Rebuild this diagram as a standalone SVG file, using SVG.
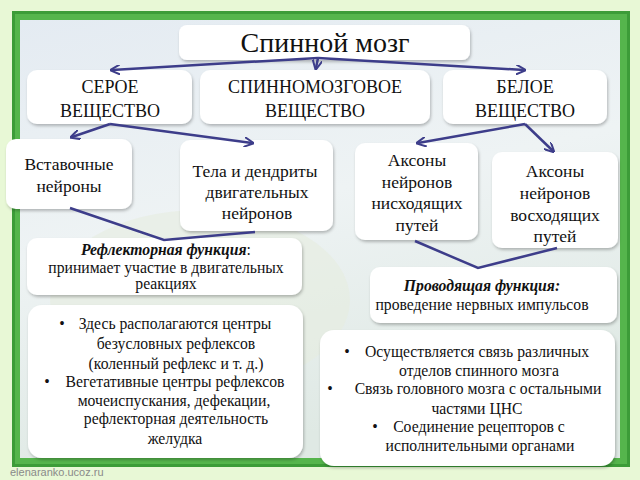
<svg xmlns="http://www.w3.org/2000/svg" width="640" height="480" viewBox="0 0 640 480">
<defs>
<linearGradient id="bg" x1="0" y1="0" x2="0.3" y2="1">
<stop offset="0" stop-color="#e4ebf2"/>
<stop offset="0.5" stop-color="#eef3f4"/>
<stop offset="1" stop-color="#dfe9e4"/>
</linearGradient>
<filter id="sh" x="-10%" y="-10%" width="120%" height="130%">
<feDropShadow dx="1" dy="2" stdDeviation="1.5" flood-color="#000" flood-opacity="0.25"/>
</filter>
<marker id="ah" viewBox="0 0 10 10" refX="8" refY="5" markerWidth="4" markerHeight="4" orient="auto" markerUnits="strokeWidth">
<path d="M0,0 L10,5 L0,10" fill="none" stroke="#3d3d8a" stroke-width="2"/>
</marker>
</defs>
<style>
.box{fill:#ffffff;filter:url(#sh)}
.t{font-family:'Liberation Serif','Times New Roman',serif;fill:#111;text-anchor:middle}
.n{font-size:17.5px}
.l{font-size:15.7px}
.conn{stroke:#3d3d8a;stroke-width:2.5;fill:none}
</style>
<rect width="640" height="480" fill="#e8f8d6"/>
<rect x="12" y="11" width="618" height="456" fill="#3c9c38"/>
<rect x="15" y="14" width="612" height="450" fill="#55b54c"/>
<rect x="20" y="20" width="600" height="438" fill="url(#bg)"/>
<ellipse cx="200" cy="300" rx="150" ry="90" fill="#e6ede0" opacity="0.6"/>
<g id="title"><rect class="box" x="179" y="25" width="291" height="35" rx="8"/><text class="t" x="325" y="52" font-size="28">Спинной мозг</text></g>
<g id="grey"><rect class="box" x="27" y="70" width="165" height="54" rx="10"/><text class="t" x="110" y="93" font-size="18">СЕРОЕ</text><text class="t" x="110" y="117" font-size="18">ВЕЩЕСТВО</text></g>
<g id="spinal"><rect class="box" x="200" y="70" width="230" height="54" rx="10"/><text class="t" x="315" y="93" font-size="18">СПИННОМОЗГОВОЕ</text><text class="t" x="315" y="117" font-size="18">ВЕЩЕСТВО</text></g>
<g id="white"><rect class="box" x="443" y="70" width="164" height="54" rx="10"/><text class="t" x="525" y="93" font-size="18">БЕЛОЕ</text><text class="t" x="525" y="117" font-size="18">ВЕЩЕСТВО</text></g>
<g id="inter"><rect class="box" x="6" y="139" width="126" height="70" rx="10"/><text class="t n" x="69" y="170">Вставочные</text><text class="t n" x="69" y="192">нейроны</text></g>
<g id="motor"><rect class="box" x="180" y="140" width="153" height="91" rx="10"/><text class="t n" x="255" y="177">Тела и дендриты</text><text class="t n" x="257" y="198">двигательных</text><text class="t n" x="257" y="219">нейронов</text></g>
<g id="desc"><rect class="box" x="355" y="143" width="123" height="97" rx="10"/><text class="t n" x="417" y="166">Аксоны</text><text class="t n" x="417" y="188">нейронов</text><text class="t n" x="417" y="209">нисходящих</text><text class="t n" x="417" y="231">путей</text></g>
<g id="asc"><rect class="box" x="492" y="152" width="126" height="96" rx="10"/><text class="t n" x="555" y="177">Аксоны</text><text class="t n" x="555" y="199">нейронов</text><text class="t n" x="555" y="221">восходящих</text><text class="t n" x="555" y="242">путей</text></g>
<g id="reflex"><rect class="box" x="27" y="238" width="275" height="57" rx="10"/><text class="t l" x="166" y="255"><tspan font-weight="bold" font-style="italic">Рефлекторная функция</tspan>:</text><text class="t l" x="166" y="273">принимает участие в двигательных</text><text class="t l" x="166" y="289">реакциях</text></g>
<g id="conduct"><rect class="box" x="370" y="267" width="247" height="56" rx="10"/><text class="t l" x="482" y="291" font-weight="bold" font-style="italic">Проводящая функция:</text><text class="t l" x="482" y="310">проведение нервных импульсов</text></g>
<g id="greylist"><rect class="box" x="28" y="305" width="275" height="153" rx="14"/>
<g class="t l">
<text x="62" y="329">•</text><text x="175" y="329">Здесь располагаются центры</text>
<text x="176" y="349">безусловных рефлексов</text>
<text x="176" y="369">(коленный рефлекс и т. д.)</text>
<text x="47" y="387">•</text><text x="175" y="387">Вегетативные центры рефлексов</text>
<text x="174" y="406">мочеиспускания, дефекации,</text>
<text x="176" y="424">рефлекторная деятельность</text>
<text x="175" y="444">желудка</text>
</g></g>
<g id="whitelist"><rect class="box" x="320" y="330" width="295" height="136" rx="14"/>
<g class="t l">
<text x="347" y="357">•</text><text x="477" y="357">Осуществляется связь различных</text>
<text x="479" y="376">отделов спинного мозга</text>
<text x="330" y="394">•</text><text x="478" y="394">Связь головного мозга с остальными</text>
<text x="477" y="414">частями ЦНС</text>
<text x="375" y="432">•</text><text x="479" y="432">Соединение рецепторов с</text>
<text x="480" y="451">исполнительными органами</text>
</g></g>
<g id="connectors" class="conn">
<line x1="318" y1="58" x2="112" y2="70" marker-end="url(#ah)"/>
<line x1="318" y1="58" x2="524" y2="70" marker-end="url(#ah)"/>
<line x1="318" y1="58" x2="316" y2="68" marker-end="url(#ah)"/>
<line x1="110" y1="124" x2="72" y2="137" marker-end="url(#ah)"/>
<line x1="110" y1="124" x2="252" y2="143" marker-end="url(#ah)"/>
<line x1="525" y1="124" x2="418" y2="143" marker-end="url(#ah)"/>
<line x1="525" y1="124" x2="553" y2="151" marker-end="url(#ah)"/>
<polyline points="70,208 164,240 255,232"/>
<polyline points="415,241 478,268 557,248"/>
</g>
<text x="10" y="476" font-family="Liberation Sans,Arial,sans-serif" font-size="11" fill="#8a8a8a">elenaranko.ucoz.ru</text>
</svg>
